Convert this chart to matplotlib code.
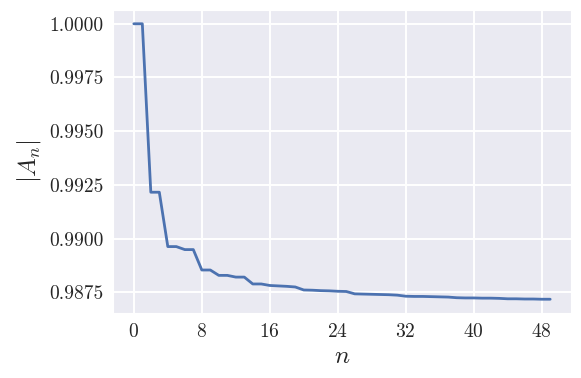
import numpy as np
import matplotlib
matplotlib.use("Agg")
import matplotlib.pyplot as plt
import seaborn as sns

## data
n = np.arange(50)
A_abs = [
    1.00000, 1.00000, 0.99216, 0.99216, 0.98963, 0.98963, 0.98949, 0.98949,
    0.98854, 0.98854, 0.98829, 0.98829, 0.98821, 0.98821, 0.98789, 0.98789,
    0.98782, 0.98780, 0.98778, 0.98775, 0.98761, 0.98760, 0.98758, 0.98757,
    0.98755, 0.98754, 0.98743, 0.98742, 0.98741, 0.98740, 0.98739, 0.98737,
    0.98732, 0.98731, 0.98731, 0.98730, 0.98729, 0.98728, 0.98725, 0.98724,
    0.98724, 0.98723, 0.98723, 0.98722, 0.98720, 0.98720, 0.98719, 0.98719,
    0.98718, 0.98718,
]
xticks = [0, 8, 16, 24, 32, 40, 48]
yticks = [0.9875, 0.9900, 0.9925, 0.9950, 0.9975, 1.0000]

sns.set_style("darkgrid")
plt.rcParams['font.family'] = 'serif'
plt.rcParams['font.serif'] = ['cmr10', 'DejaVu Serif']
plt.rcParams['mathtext.fontset'] = 'cm'
plt.rcParams['axes.formatter.use_mathtext'] = True
plt.rcParams['grid.linewidth'] = 1.4

fig, ax = plt.subplots(figsize=(5.81, 3.78), dpi=100)
fig.subplots_adjust(left=113/581, right=571/581, top=1-10/378, bottom=1-313/378)

ax.plot(n, A_abs, color="#4c72b0", linewidth=2.0)
ax.set_xticks(xticks)
ax.set_yticks(yticks)
ax.set_yticklabels([f"{v:.4f}" for v in yticks])
ax.tick_params(labelsize=14)
ax.set_xlabel(r"$n$", fontsize=18)
ax.set_ylabel(r"$|A_n|$", fontsize=18)

fig.savefig("out.png", dpi=100)
